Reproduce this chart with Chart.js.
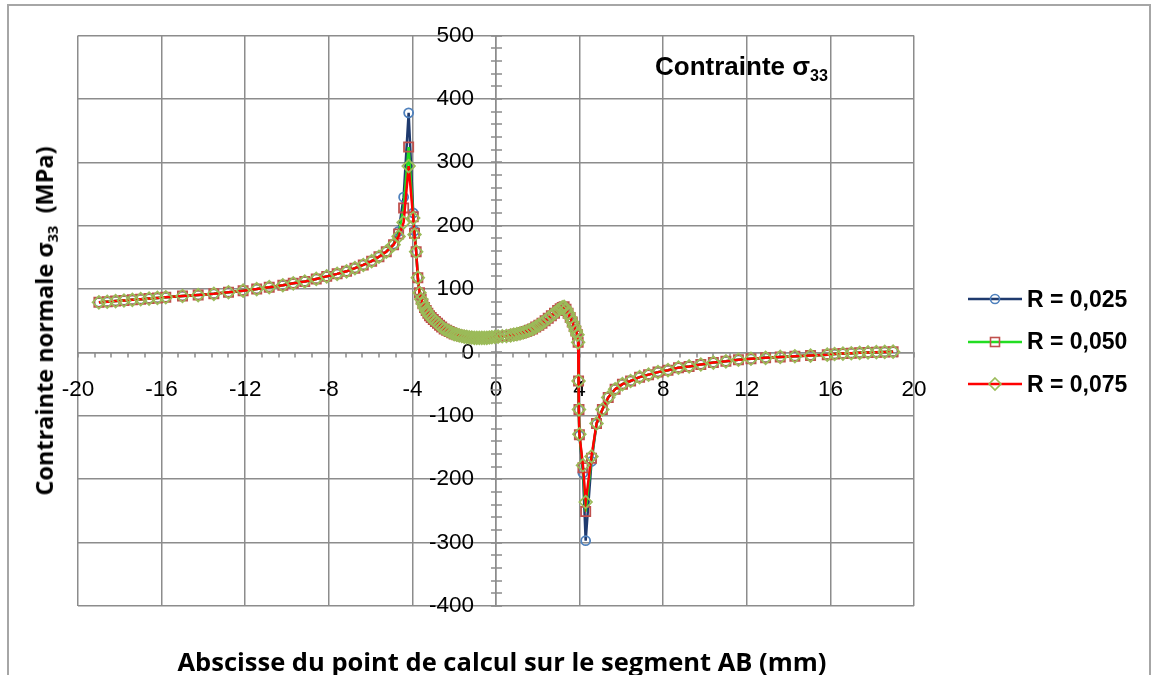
<!DOCTYPE html>
<html lang="fr">
<head>
<meta charset="utf-8">
<title>Contrainte σ33</title>
<script src="https://cdn.jsdelivr.net/npm/chart.js@4.4.1/dist/chart.umd.min.js"></script>
<style>
  body { margin: 0; background: #fff; width: 1155px; height: 675px; overflow: hidden; position: relative; }
  #frame { position: absolute; left: 7px; top: 4px; width: 1144px; height: 700px; border: 2px solid #a6a6a6; box-sizing: border-box; }
  #wrap { position: absolute; left: 0; top: 0; width: 1155px; height: 675px; }
  .note { position: absolute; left: 655px; top: 51px; font: bold 26px "Liberation Sans", Arial, sans-serif; color: #000; white-space: nowrap; }
  .note sub, .ytitle sub { font-size: 62%; vertical-align: -0.35em; }
  .ytitle { position: absolute; left: 45px; top: 321px; transform: translate(-50%, -50%) rotate(-90deg); font: bold 23.5px "Open Sans", sans-serif; white-space: nowrap; color: #000; }
  .xtitle { position: absolute; left: 502px; top: 661px; transform: translate(-50%, -50%); font: bold 25.5px "Open Sans", sans-serif; white-space: nowrap; color: #000; }
  .legend { position: absolute; left: 968px; top: 278px; font: bold 23px "Liberation Sans", Arial, sans-serif; color: #000; }
  .legend div { height: 42.5px; display: flex; align-items: center; white-space: nowrap; }
  .legend svg { margin-right: 5px; }
</style>
</head>
<body>
<div id="frame"></div>
<div id="wrap"><canvas id="mainChart"></canvas></div>
<div class="note">Contrainte σ<sub>33</sub></div>
<div class="ytitle">Contrainte normale σ<sub>33</sub>&nbsp;&nbsp;(MPa)</div>
<div class="xtitle">Abscisse du point de calcul sur le segment AB (mm)</div>
<div class="legend" id="legend"></div>

<script>
// Abscissa of the calculation points along AB (mm)
const xValues = [
  -19.0, -18.6, -18.2, -17.8, -17.4, -17.0, -16.6, -16.2, -15.8, -15.0,
  -14.25, -13.5, -12.8, -12.1, -11.45, -10.85, -10.2, -9.7, -9.15, -8.6,
  -8.1, -7.6, -7.15, -6.75, -6.35, -5.95, -5.6, -5.25, -4.9, -4.66,
  -4.42, -4.18, -3.96, -3.9, -3.82, -3.74, -3.66, -3.58, -3.5, -3.42,
  -3.34, -3.26, -3.18, -3.1, -3.0, -2.9, -2.8, -2.7, -2.6, -2.48,
  -2.36, -2.24, -2.12, -2.0, -1.88, -1.76, -1.64, -1.52, -1.4, -1.28,
  -1.16, -1.04, -0.92, -0.8, -0.68, -0.56, -0.44, -0.32, -0.2, -0.05,
  0.1, 0.3, 0.5, 0.7, 0.85, 1.0, 1.15, 1.3, 1.45, 1.6,
  1.75, 1.9, 2.05, 2.2, 2.35, 2.5, 2.65, 2.8, 2.95, 3.07,
  3.17, 3.26, 3.35, 3.45, 3.55, 3.65, 3.74, 3.82, 3.9, 3.93,
  3.95, 3.97, 3.99, 4.16, 4.29, 4.57, 4.81, 5.09, 5.37, 5.7,
  6.05, 6.44, 6.87, 7.3, 7.75, 8.23, 8.73, 9.24, 9.8, 10.4,
  11.0, 11.6, 12.2, 12.9, 13.6, 14.3, 15.05, 15.85, 16.2, 16.6,
  17.0, 17.4, 17.8, 18.2, 18.6, 19.0,
];

// sigma 33 (MPa) for each radius
const r025Values = [
  79, 80, 81, 82, 83, 84, 85, 86, 87, 89,
  90.5, 92.5, 95, 97.5, 100, 103, 106, 109, 112, 116,
  120, 124, 128, 133, 138, 144, 151, 159, 171, 191,
  245, 378, 220, 192, 160, 119, 94, 84, 77, 71,
  66, 62, 58, 55, 52, 49, 46, 43, 40, 37,
  35, 33, 31, 29, 28, 27, 26, 25, 24.5, 24,
  23.5, 23, 23, 23, 23, 23, 23, 23.5, 24, 24.5,
  25, 25.5, 26, 27, 28, 29, 30, 31.5, 33, 35,
  37, 40, 43, 46, 50, 54, 58, 62, 66, 69,
  71, 72, 68, 62, 55, 48, 41, 34, 28, 16,
  -45, -91, -131, -190, -297, -172, -113, -90, -71, -58,
  -50, -45, -39, -35, -31, -28, -24, -22, -19, -16,
  -14, -11.5, -10, -8.5, -7, -6, -5, -3.5, -2.5, -1.8,
  -1.2, -0.6, 0, 0.4, 0.8, 1.2,
];

const r050Values = [
  79, 80, 81, 82, 83, 84, 85, 86, 87, 89,
  90.5, 92.5, 95, 97.5, 100, 103, 106, 109, 112, 116,
  120, 124, 128, 133, 138, 144, 151, 159, 170, 187,
  228, 324, 214, 188, 159, 118, 94, 84, 77, 71,
  66, 62, 58, 55, 52, 49, 46, 43, 40, 37,
  35, 33, 31, 29, 28, 27, 26, 25, 24.5, 24,
  23.5, 23, 23, 23, 23, 23, 23, 23.5, 24, 24.5,
  25, 25.5, 26, 27, 28, 29, 30, 31.5, 33, 35,
  37, 40, 43, 46, 50, 54, 58, 62, 66, 69,
  71, 72, 68, 62, 55, 48, 41, 34, 28, 16,
  -45, -90, -130, -182, -251, -167, -112, -90, -71, -58,
  -50, -45, -39, -35, -31, -28, -24, -22, -19, -16,
  -14, -11.5, -10, -8.5, -7, -6, -5, -3.5, -2.5, -1.8,
  -1.2, -0.6, 0, 0.4, 0.8, 1.2,
];

const r075Values = [
  79, 80, 81, 82, 83, 84, 85, 86, 87, 89,
  90.5, 92.5, 95, 97.5, 100, 103, 106, 109, 112, 116,
  120, 124, 128, 133, 138, 144, 151, 159, 170, 183,
  205, 294, 212, 186, 159, 118, 94, 84, 77, 71,
  66, 62, 58, 55, 52, 49, 46, 43, 40, 37,
  35, 33, 31, 29, 28, 27, 26, 25, 24.5, 24,
  23.5, 23, 23, 23, 23, 23, 23, 23.5, 24, 24.5,
  25, 25.5, 26, 27, 28, 29, 30, 31.5, 33, 35,
  37, 40, 43, 46, 50, 54, 58, 62, 66, 69,
  71, 72, 68, 62, 55, 48, 41, 34, 28, 16,
  -45, -90, -129, -178, -236, -164, -112, -90, -71, -58,
  -50, -45, -39, -35, -31, -28, -24, -22, -19, -16,
  -14, -11.5, -10, -8.5, -7, -6, -5, -3.5, -2.5, -1.8,
  -1.2, -0.6, 0, 0.4, 0.8, 1.2,
];

const seriesLabels = ["R = 0,025", "R = 0,050", "R = 0,075"];
const lineColors = ["#1f3a6e", "#22dd22", "#ff0000"];
const markerColors = ["#4f81bd", "#c0504d", "#9bbb59"];
const markerStyles = ["circle", "rect", "rectRot"];
const markerSizes = [4.5, 6.5, 6.3];

const xRange = [-20, 20];
const yRange = [-400, 500];
const gridColor = "#8c8c8c";

function toPoints(values) {
  return xValues.map((x, i) => ({ x: x, y: values[i] }));
}

// small ticks crossing the two axes (5 per major step)
const minorTicks = {
  id: "minorTicks",
  beforeDatasetsDraw(chart) {
    const { ctx, scales } = chart;
    const x0 = scales.x.getPixelForValue(0);
    const y0 = scales.y.getPixelForValue(0);
    ctx.save();
    ctx.strokeStyle = gridColor;
    ctx.lineWidth = 1.5;
    ctx.beginPath();
    for (let i = 0; i <= 50; i++) {
      const px = Math.round(scales.x.getPixelForValue(xRange[0] + i * 0.8));
      ctx.moveTo(px, y0);
      ctx.lineTo(px, y0 + 5);
    }
    for (let i = 0; i <= 45; i++) {
      const py = Math.round(scales.y.getPixelForValue(yRange[0] + i * 20));
      ctx.moveTo(x0 - 5, py);
      ctx.lineTo(x0 + 6, py);
    }
    ctx.stroke();
    ctx.restore();
  },
};

function buildLegend() {
  const box = document.getElementById("legend");
  box.innerHTML = seriesLabels
    .map((label, i) => {
      let mark = "";
      if (markerStyles[i] === "circle") {
        mark = `<circle cx="27" cy="8" r="4.5" fill="none" stroke="${markerColors[i]}" stroke-width="1.6"/>`;
      } else if (markerStyles[i] === "rect") {
        mark = `<rect x="22.5" y="3.5" width="9" height="9" fill="none" stroke="${markerColors[i]}" stroke-width="1.6"/>`;
      } else {
        mark = `<path d="M27 2 L33 8 L27 14 L21 8 Z" fill="none" stroke="${markerColors[i]}" stroke-width="1.6"/>`;
      }
      return `<div><svg width="54" height="16"><line x1="0" y1="8" x2="54" y2="8" stroke="${lineColors[i]}" stroke-width="2.6"/>${mark}</svg>${label}</div>`;
    })
    .join("");
}

document.addEventListener("DOMContentLoaded", function () {
  Chart.defaults.font.family = '"Liberation Sans", Arial, sans-serif';
  Chart.defaults.color = "#000";

  const allValues = [r025Values, r050Values, r075Values];
  const datasets = allValues.map((values, i) => ({
    label: seriesLabels[i],
    data: toPoints(values),
    borderColor: lineColors[i],
    borderWidth: 2.5,
    backgroundColor: "rgba(0,0,0,0)",
    pointStyle: markerStyles[i],
    pointRadius: markerSizes[i],
    pointBorderColor: markerColors[i],
    pointBackgroundColor: "rgba(0,0,0,0)",
    pointBorderWidth: 1.8,
    tension: 0,
    order: 3 - i, // last series drawn on top
  }));

  new Chart(document.getElementById("mainChart"), {
    type: "line",
    data: { datasets: datasets },
    options: {
      responsive: true,
      maintainAspectRatio: false,
      animation: false,
      events: [],
      layout: { padding: { left: 78, right: 241, top: 35, bottom: 69 } },
      plugins: { legend: { display: false }, tooltip: { enabled: false } },
      scales: {
        x: {
          type: "linear",
          min: xRange[0],
          max: xRange[1],
          position: { y: 0 },
          ticks: { stepSize: 4, autoSkip: false, maxRotation: 0, padding: 24, font: { size: 22.5 } },
          grid: { color: gridColor, lineWidth: 1.5, drawTicks: false },
          border: { color: gridColor, width: 1.5 },
        },
        y: {
          type: "linear",
          min: yRange[0],
          max: yRange[1],
          position: "center",
          ticks: { stepSize: 100, padding: 22, font: { size: 22.5 } },
          grid: { color: gridColor, lineWidth: 1.5, drawTicks: false },
          border: { color: gridColor, width: 1.5 },
        },
      },
    },
    plugins: [minorTicks],
  });

  buildLegend();
});
</script>
</body>
</html>
